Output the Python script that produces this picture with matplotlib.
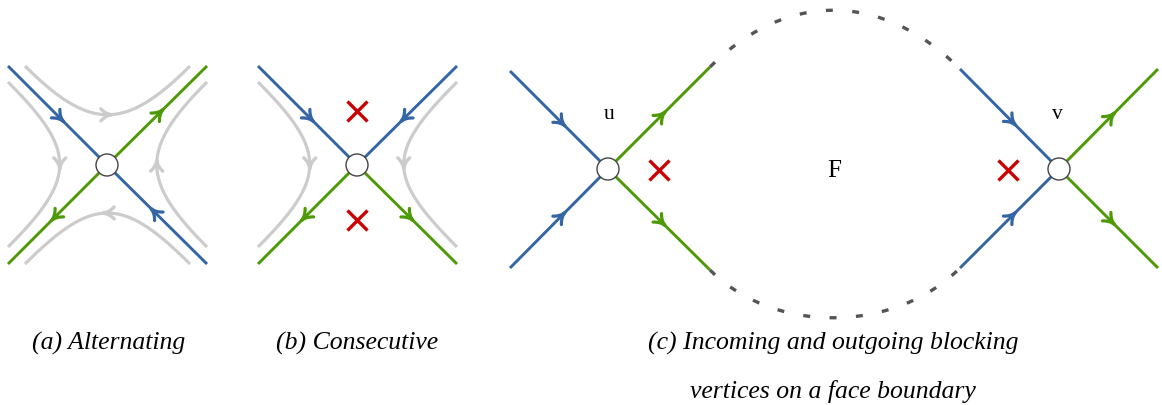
import numpy as np
import matplotlib.pyplot as plt
from matplotlib.path import Path
from matplotlib.patches import PathPatch, Circle

plt.rcParams['lines.scale_dashes'] = False

BLUE = '#3465a4'
GREEN = '#4e9a06'
RED = '#cc0000'
GRAY = '#cccccc'
DARK = '#555555'
SERIF = 'Liberation Serif'

# vertex centres (pixel coordinates, y downwards)
vertex_names = ['a', 'b', 'u', 'v']
vertex_pos = [(107, 165), (357, 165), (608, 169), (1059, 169)]

# half-edges: vertex, far end, colour, incoming?
edge_vertex = ['a', 'a', 'a', 'a', 'b', 'b', 'b', 'b',
               'u', 'u', 'u', 'u', 'v', 'v', 'v', 'v']
edge_end = [(8, 66), (207, 264), (207, 66), (8, 264),
            (258, 66), (457, 66), (258, 264), (457, 264),
            (510, 71), (510, 268), (710, 67), (710, 270),
            (960, 69), (960, 268), (1158, 69), (1158, 268)]
edge_color = [BLUE, BLUE, GREEN, GREEN] * 4
edge_incoming = [True, True, False, False] * 4

# light gray flow lines around a vertex: start, end, vertex, bend
flow_start = [(25, 66), (190, 264), (8, 82), (207, 247), (258, 82), (457, 82)]
flow_end = [(190, 66), (25, 264), (8, 247), (207, 82), (258, 247), (457, 247)]
flow_vertex = ['a', 'a', 'a', 'a', 'b', 'b']
flow_bend = [65, 68, 69, 67, 69, 71]

# dashed boundary of face F: start, end, bend, side (-1 up, +1 down)
face_start = [(710, 67), (710, 270)]
face_end = [(960, 69), (960, 268)]
face_bend = [77, 65]
face_side = [-1, 1]

# blocked angles
cross_x = [357, 357, 659, 1008]
cross_y = [111, 220, 170, 170]

# vertex / face labels
label_text = ['u', 'v', 'F']
label_pos = [(609, 119), (1057, 119), (834, 177)]
label_size = [15.5, 15.5, 18]

captions = ['(a) Alternating', '(b) Consecutive',
            '(c) Incoming and outgoing blocking',
            'vertices on a face boundary']
caption_pos = [(109, 350), (357, 350), (833, 350), (833, 398)]

vpos = dict(zip(vertex_names, vertex_pos))


def bezier(p0, c1, c2, p3, n=200):
    t = np.linspace(0, 1, n)[:, None]
    p0, c1, c2, p3 = map(np.asarray, (p0, c1, c2, p3))
    return ((1 - t) ** 3 * p0 + 3 * (1 - t) ** 2 * t * c1
            + 3 * (1 - t) * t ** 2 * c2 + t ** 3 * p3)


def arrow_head(ax, tip, d, color, lw, length=11, half=6):
    # barbed head: both wings leave the tip along the line and flare back
    d = np.asarray(d, float)
    d /= np.hypot(*d)
    n = np.array([-d[1], d[0]])
    tip = np.asarray(tip, float)
    w1 = tip - length * d + half * n
    w2 = tip - length * d - half * n
    c1 = tip - 0.55 * length * d + 0.1 * half * n
    c2 = tip - 0.55 * length * d - 0.1 * half * n
    path = Path([w1, c1, tip, c2, w2],
                [Path.MOVETO, Path.CURVE3, Path.CURVE3, Path.CURVE3, Path.CURVE3])
    ax.add_patch(PathPatch(path, fill=False, edgecolor=color, lw=lw,
                           capstyle='round', joinstyle='round', zorder=3))


fig = plt.figure(figsize=(11.62, 4.05), dpi=100)
ax = fig.add_axes([0, 0, 1, 1])
ax.set_xlim(0, 1162)
ax.set_ylim(405, 0)
ax.axis('off')

# gray flow lines with arrows at their midpoint
for p0, p3, vn, k in zip(flow_start, flow_end, flow_vertex, flow_bend):
    c = np.array(vpos[vn])
    p0, p3 = np.array(p0, float), np.array(p3, float)
    c1 = p0 + k * np.sign(c - p0)
    c2 = p3 + k * np.sign(c - p3)
    pts = bezier(p0, c1, c2, p3)
    ax.plot(pts[:, 0], pts[:, 1], color=GRAY, lw=2.3, solid_capstyle='butt', zorder=1)
    mid = pts[len(pts) // 2]
    tan = pts[len(pts) // 2 + 1] - pts[len(pts) // 2 - 1]
    arrow_head(ax, mid + 4 * tan / np.hypot(*tan), tan, GRAY, 2.4)

# blue / green half-edges
for vn, end, col, inc in zip(edge_vertex, edge_end, edge_color, edge_incoming):
    v = np.array(vpos[vn], float)
    e = np.array(end, float)
    a, b = (e, v) if inc else (v, e)
    ax.plot([a[0], b[0]], [a[1], b[1]], color=col, lw=2.1,
            solid_capstyle='butt', zorder=2)
    arrow_head(ax, a + 0.56 * (b - a), b - a, col, 2.3)

# dashed face boundary
for p0, p3, k, s in zip(face_start, face_end, face_bend, face_side):
    p0, p3 = np.array(p0, float), np.array(p3, float)
    c1 = p0 + k * np.array([1, s])
    c2 = p3 + k * np.array([-1, s])
    pts = bezier(p0, c1, c2, p3, 400)
    ax.plot(pts[:, 0], pts[:, 1], color=DARK, lw=2.4,
            linestyle=(0, (5, 14)), dash_capstyle='butt', zorder=2)

# vertices
for p in vertex_pos:
    ax.add_patch(Circle(p, 11, facecolor='white', edgecolor='#444444',
                        lw=1.0, zorder=5))

ax.plot(cross_x, cross_y, linestyle='none', marker='x', ms=14, mew=2.4,
        color=RED, zorder=4)

for s, (x, y), fs in zip(label_text, label_pos, label_size):
    ax.text(x, y, s, ha='center', va='baseline', fontsize=fs, family=SERIF)

for s, (x, y) in zip(captions, caption_pos):
    ax.text(x, y, s, ha='center', va='baseline', fontsize=18.5,
            family=SERIF, style='italic')

fig.savefig('out.png', dpi=100)
